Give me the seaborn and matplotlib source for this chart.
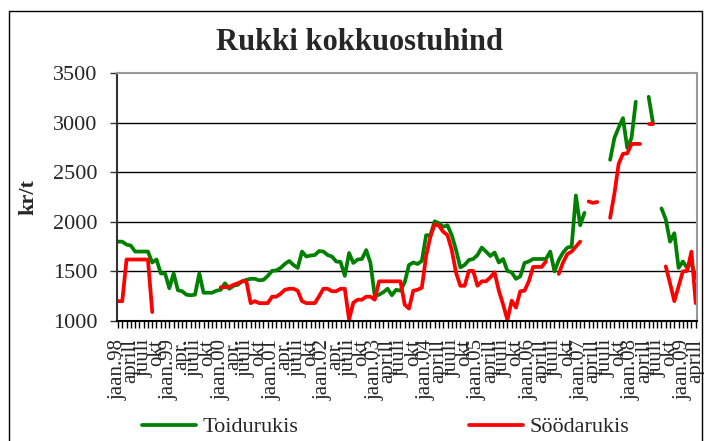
import matplotlib
matplotlib.use("Agg")
import matplotlib.pyplot as plt
from matplotlib.lines import Line2D
from matplotlib.patches import Rectangle
import numpy as np
import pandas as pd
import seaborn as sns

# kuised hinnad kr/t, jaan.98 ... aprill 09 (None = andmed puuduvad)
toidurukis = [
    1800, 1800, 1770, 1760, 1700, 1700, 1700, 1700, 1590, 1620, 1480, 1480,
    1330, 1480, 1310, 1300, 1265, 1260, 1265, 1480, 1285, 1285, 1285, 1305,
    1315, 1380, 1325, 1355, 1365, 1400, 1415, 1425, 1425, 1410, 1415, 1455,
    1505, 1510, 1535, 1575, 1605, 1565, 1535, 1700, 1650, 1660, 1665, 1705,
    1700, 1665, 1650, 1600, 1595, 1455, 1685, 1585, 1620, 1625, 1715, 1585,
    1250, 1265, 1290, 1325, 1260, 1315, 1305, 1390, 1565, 1590, 1575, 1605,
    1865, 1865, 2005, 1985, 1950, 1965, 1865, 1715, 1540, 1565, 1615, 1625,
    1665, 1740, 1700, 1655, 1690, 1590, 1625, 1505, 1490, 1425, 1450, 1585,
    1600, 1625, 1625, 1625, 1625, 1700, 1500, 1615, 1690, 1740, 1750, 2265,
    1965, 2090, None, None, None, None, None, 2625, 2845, 2950, 3045, 2745,
    2845, 3210, None, None, 3260, 3000, None, 2135, 2025, 1800, 1885, 1535,
    1600, 1535, 1590, 1435,
]
soodarukis = [
    1200, 1200, 1620, 1620, 1620, 1620, 1620, 1620, 1090, None, None, None,
    None, None, None, None, None, None, None, None, None, None, None, None,
    1340, 1340, 1345, 1365, 1380, 1400, 1400, 1180, 1200, 1180, 1180, 1180,
    1245, 1245, 1275, 1315, 1325, 1325, 1305, 1200, 1180, 1180, 1180, 1250,
    1325, 1325, 1300, 1300, 1325, 1325, 1015, 1185, 1215, 1215, 1245, 1245,
    1215, 1400, 1400, 1400, 1400, 1400, 1400, 1165, 1125, 1305, 1315, 1335,
    1655, 1850, 1975, 1960, 1900, 1865, 1715, 1485, 1355, 1355, 1505, 1505,
    1355, 1400, 1400, 1440, 1490, 1305, 1165, 1010, 1205, 1135, 1300, 1305,
    1400, 1545, 1545, 1545, 1600, None, None, 1475, 1590, 1675, 1700, 1750,
    1800, None, 2205, 2190, 2200, None, None, 2040, 2285, 2585, 2685, 2690,
    2785, 2785, 2785, None, 2990, 2990, None, None, 1550, 1380, 1200, 1350,
    1500, 1505, 1700, 1180,
]
kuu_sildid = [
    "jaan.98", "aprill", "juuli", "okt",
    "jaan.99", "apr.", "juuli", "okt",
    "jaan.00", "apr.", "juuli", "okt",
    "jaan.01", "apr.", "juuli", "okt",
    "jaan.02", "apr.", "juuli", "okt",
    "jaan.03", "aprill", "juuli", "okt",
    "jaan.04", "aprill", "juuli", "okt",
    "jaan.05", "aprill", "juuli", "okt",
    "jaan.06", "aprill", "juuli", "okt",
    "jaan.07", "aprill", "juuli", "okt",
    "jaan.08", "aprill", "juuli", "okt",
    "jaan.09", "aprill",
]
seeriad = {"Toidurukis": toidurukis, "Söödarukis": soodarukis}
varvid = {"Toidurukis": "#008000", "Söödarukis": "#ff0000"}


def pikk_tabel():
    """Iga katkematu loik saab oma segmendi nime, et lunkades joont ei oleks"""
    rows = []
    for nimi, vaartused in seeriad.items():
        seg = 0
        eelmine_puudu = True
        for i, v in enumerate(vaartused):
            if v is None:
                eelmine_puudu = True
                continue
            if eelmine_puudu:
                seg += 1
            eelmine_puudu = False
            rows.append((i, v, nimi, f"{nimi}_{seg}"))
    return pd.DataFrame(rows, columns=["kuu", "hind", "seeria", "segment"])


sns.set_style("white")
plt.rcParams["font.family"] = ["Liberation Serif", "DejaVu Serif"]
plt.rcParams["lines.solid_capstyle"] = "round"
plt.rcParams["lines.solid_joinstyle"] = "round"

fig = plt.figure(figsize=(7.04, 4.41), dpi=100)
ax = fig.add_axes([116.7 / 704, 1 - 321 / 441, (697 - 116.7) / 704, (321 - 73) / 441])

df = pikk_tabel()
sns.lineplot(data=df, x="kuu", y="hind", hue="seeria", units="segment",
             estimator=None, palette=varvid, linewidth=2.7, legend=False,
             sort=False, ax=ax)

n = len(toidurukis)
ax.set_xlim(-0.3, n - 1 + 0.3)
ax.set_ylim(1000, 3500)
ax.set_yticks(range(1000, 3501, 500))
ax.tick_params(axis="y", labelsize=16, length=5, width=1, direction="out",
               pad=9, left=True, color="#333333")
ax.set_xticks(range(n))
labels = [""] * n
for k, s in enumerate(kuu_sildid):
    labels[k * 3] = s
ax.set_xticklabels(labels, rotation=90, fontsize=15)
ax.tick_params(axis="x", length=5, width=1, direction="out", pad=8,
               bottom=True, color="black")
ax.set_xlabel("")
ax.set_ylabel("kr/t", fontsize=16, fontweight="bold", labelpad=10)

for g in [1500, 2000, 2500, 3000]:
    ax.axhline(g, color="black", linewidth=1, zorder=0)

ax.spines["left"].set_color("#333333")
ax.spines["left"].set_linewidth(1.5)
ax.spines["bottom"].set_color("black")
ax.spines["bottom"].set_linewidth(1.5)
ax.spines["top"].set_color("#999999")
ax.spines["top"].set_linewidth(1.5)
ax.spines["right"].set_color("#999999")
ax.spines["right"].set_linewidth(1.5)

fig.text(0.511, 1 - 50 / 441, "Rukki kokkuostuhind", ha="center",
         va="baseline", fontsize=22, fontweight="bold")

kasitsejad = [Line2D([], [], color=varvid[k], linewidth=2.7) for k in seeriad]
fig.legend(kasitsejad, list(seeriad), loc="center",
           bbox_to_anchor=(0.548, 1 - 427 / 441), ncol=2, frameon=False,
           fontsize=16, handlelength=2.4, handletextpad=0.3,
           columnspacing=7.7, borderaxespad=0, borderpad=0)

fig.patches.append(Rectangle((9 / 704, -0.1), (702 - 9) / 704, 1.1 - 11 / 441,
                             transform=fig.transFigure, fill=False,
                             edgecolor="black", linewidth=1))

fig.savefig("out.png", dpi=100)
